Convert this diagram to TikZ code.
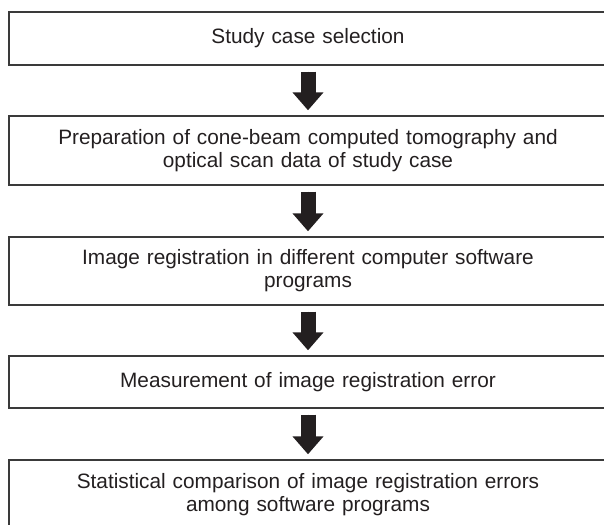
\documentclass[tikz,border=0pt]{standalone}
\usepackage{fontspec}
\setmainfont{Liberation Sans}
\usetikzlibrary{arrows.meta}
\definecolor{ink}{HTML}{231F20}
\definecolor{edge}{HTML}{3A3A3A}
\begin{document}
\begin{tikzpicture}[x=1pt,y=-1pt,
  stepbox/.style={draw=edge, line width=1.4pt, minimum width=598pt, text width=590pt, align=center,
    inner sep=0pt, text=ink, font=\fontsize{20.8}{23}\selectfont},
  bigarrow/.style={draw=ink, fill=ink, line width=15pt, -{Triangle[width=30pt,length=18pt,fill=ink]}}]
\useasboundingbox (0,0) rectangle (604,524);
\clip (0,0) rectangle (604,524);
\node[stepbox, minimum height=53pt] (b1) at (308,38.5) {Study case selection};
\node[stepbox, minimum height=69pt] (b2) at (308,150.5) {Preparation of cone-beam computed tomography and\\optical scan data of study case};
\node[stepbox, minimum height=68pt] (b3) at (308,271) {Image registration in different computer software\\programs};
\node[stepbox, minimum height=52pt] (b4) at (308,382) {Measurement of image registration error};
\node[stepbox, minimum height=69pt] (b5) at (308,494.5) {Statistical comparison of image registration errors\\among software programs};
\draw[bigarrow] ([yshift=-6pt]b1.south) -- ([yshift=5pt]b2.north);
\draw[bigarrow] ([yshift=-6pt]b2.south) -- ([yshift=5pt]b3.north);
\draw[bigarrow] ([yshift=-6pt]b3.south) -- ([yshift=5pt]b4.north);
\draw[bigarrow] ([yshift=-6pt]b4.south) -- ([yshift=5pt]b5.north);
\end{tikzpicture}
\end{document}
